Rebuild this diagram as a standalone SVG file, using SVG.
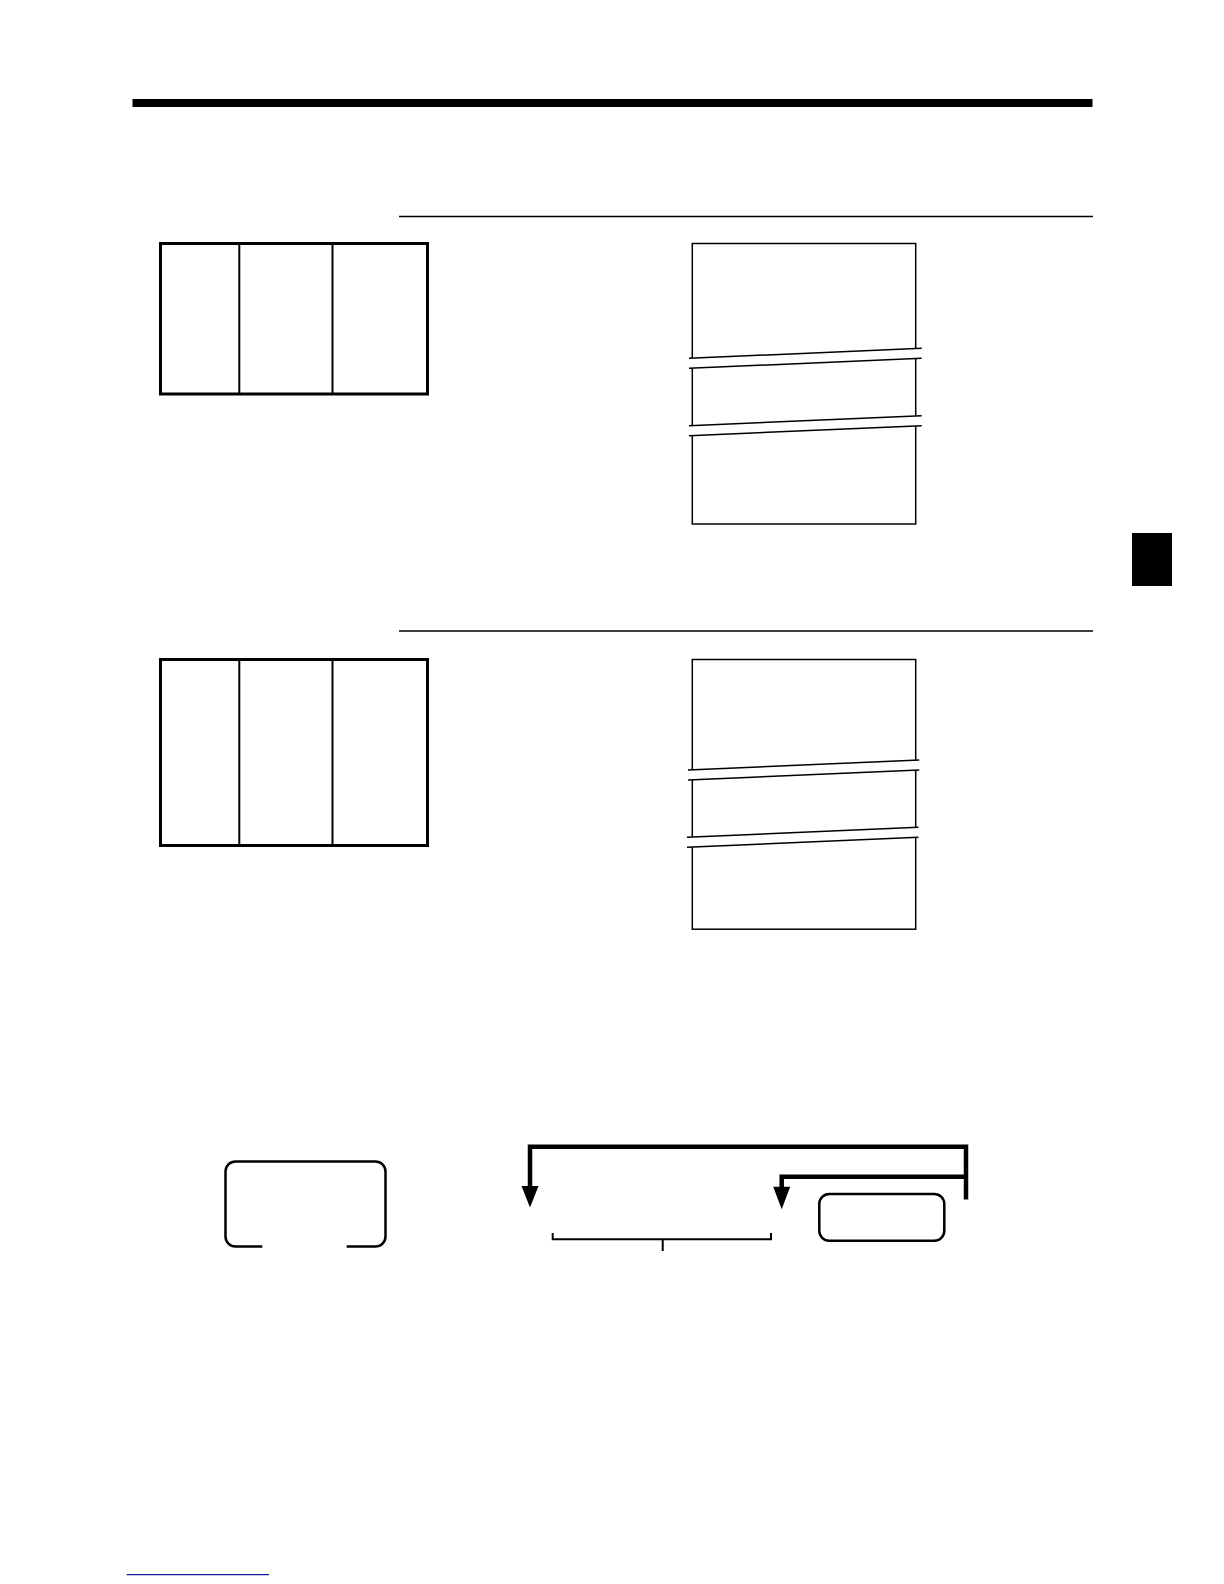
<svg xmlns="http://www.w3.org/2000/svg" width="1224" height="1584" viewBox="0 0 1224 1584">
<style>
.thin{fill:none;stroke:#000;stroke-width:1.5}
.tbl{fill:none;stroke:#000;stroke-width:3}
.col{stroke:#000;stroke-width:2}
.brk{fill:#fff;stroke:none}
.key{fill:#fff;stroke:#000;stroke-width:2.5}
.conn{fill:none;stroke:#000;stroke-width:4.5}
.head{fill:#000}
.brkt{fill:none;stroke:#000;stroke-width:2}
</style>
<rect width="1224" height="1584" fill="#fff"/>
<rect id="top-bar" x="132.5" y="99" width="960" height="8" fill="#000"/>
<line id="rule1" class="thin" x1="399" y1="216.5" x2="1093" y2="216.5"/>
<line id="rule2" class="thin" x1="399" y1="631" x2="1093" y2="631"/>
<rect id="tab" x="1132" y="533" width="40" height="53" fill="#000"/>

<g id="table1">
<rect class="tbl" x="160.5" y="243.5" width="267" height="150.5"/>
<line class="col" x1="239.3" y1="243.5" x2="239.3" y2="394"/>
<line class="col" x1="332.5" y1="243.5" x2="332.5" y2="394"/>
</g>

<g id="table2">
<rect class="tbl" x="160.5" y="659.5" width="267" height="186"/>
<line class="col" x1="239.3" y1="659.5" x2="239.3" y2="845.5"/>
<line class="col" x1="332.5" y1="659.5" x2="332.5" y2="845.5"/>
</g>

<g id="receipt1">
<rect class="thin" x="692.3" y="243.5" width="223.4" height="280.5"/>
<polygon class="brk" points="686,358.5 923,348.5 923,358.5 686,368.5"/>
<line class="thin" x1="689" y1="358.3" x2="921.7" y2="348.3"/>
<line class="thin" x1="689" y1="368.3" x2="921.7" y2="358.3"/>
<polygon class="brk" points="686,425.7 923,415.7 923,425.7 686,435.7"/>
<line class="thin" x1="689" y1="425.7" x2="921.7" y2="415.7"/>
<line class="thin" x1="689" y1="435.7" x2="921.7" y2="425.7"/>
</g>

<g id="receipt2">
<rect class="thin" x="692.3" y="659.5" width="223.4" height="269.7"/>
<polygon class="brk" points="685,770 921,760 921,770 685,780"/>
<line class="thin" x1="688" y1="770" x2="919.3" y2="760"/>
<line class="thin" x1="688" y1="780" x2="919.3" y2="770"/>
<polygon class="brk" points="684,837.3 920,827.3 920,837.3 684,847.3"/>
<line class="thin" x1="687" y1="837.3" x2="918.5" y2="827.3"/>
<line class="thin" x1="687" y1="847.3" x2="918.5" y2="837.3"/>
</g>

<g id="key-left">
<path class="key" fill="none" d="M262.3,1246.5 H235.5 A10,10 0 0 1 225.5,1236.5 V1171.5 A10,10 0 0 1 235.5,1161.5 H375.5 A10,10 0 0 1 385.5,1171.5 V1236.5 A10,10 0 0 1 375.5,1246.5 H346.7"/>
</g>

<g id="key-right">
<rect class="key" x="819.3" y="1194" width="125" height="46.7" rx="10" ry="10"/>
</g>

<g id="bracket">
<path class="brkt" d="M552.7,1233 V1239.3 H771 V1233 M662.7,1239.3 V1251"/>
</g>

<g id="connectors">
<path class="conn" d="M966,1199.5 V1146.7 H530 V1190"/>
<polygon class="head" points="521.5,1186 538.5,1186 530,1207.5"/>
<path class="conn" d="M966,1176.7 H781.7 V1190"/>
<polygon class="head" points="773.2,1186.7 790.2,1186.7 781.7,1209.3"/>
</g>

<line id="footer-link" x1="126.7" y1="1574.7" x2="269" y2="1574.7" stroke="#1a1a9a" stroke-width="1.2"/>
</svg>
